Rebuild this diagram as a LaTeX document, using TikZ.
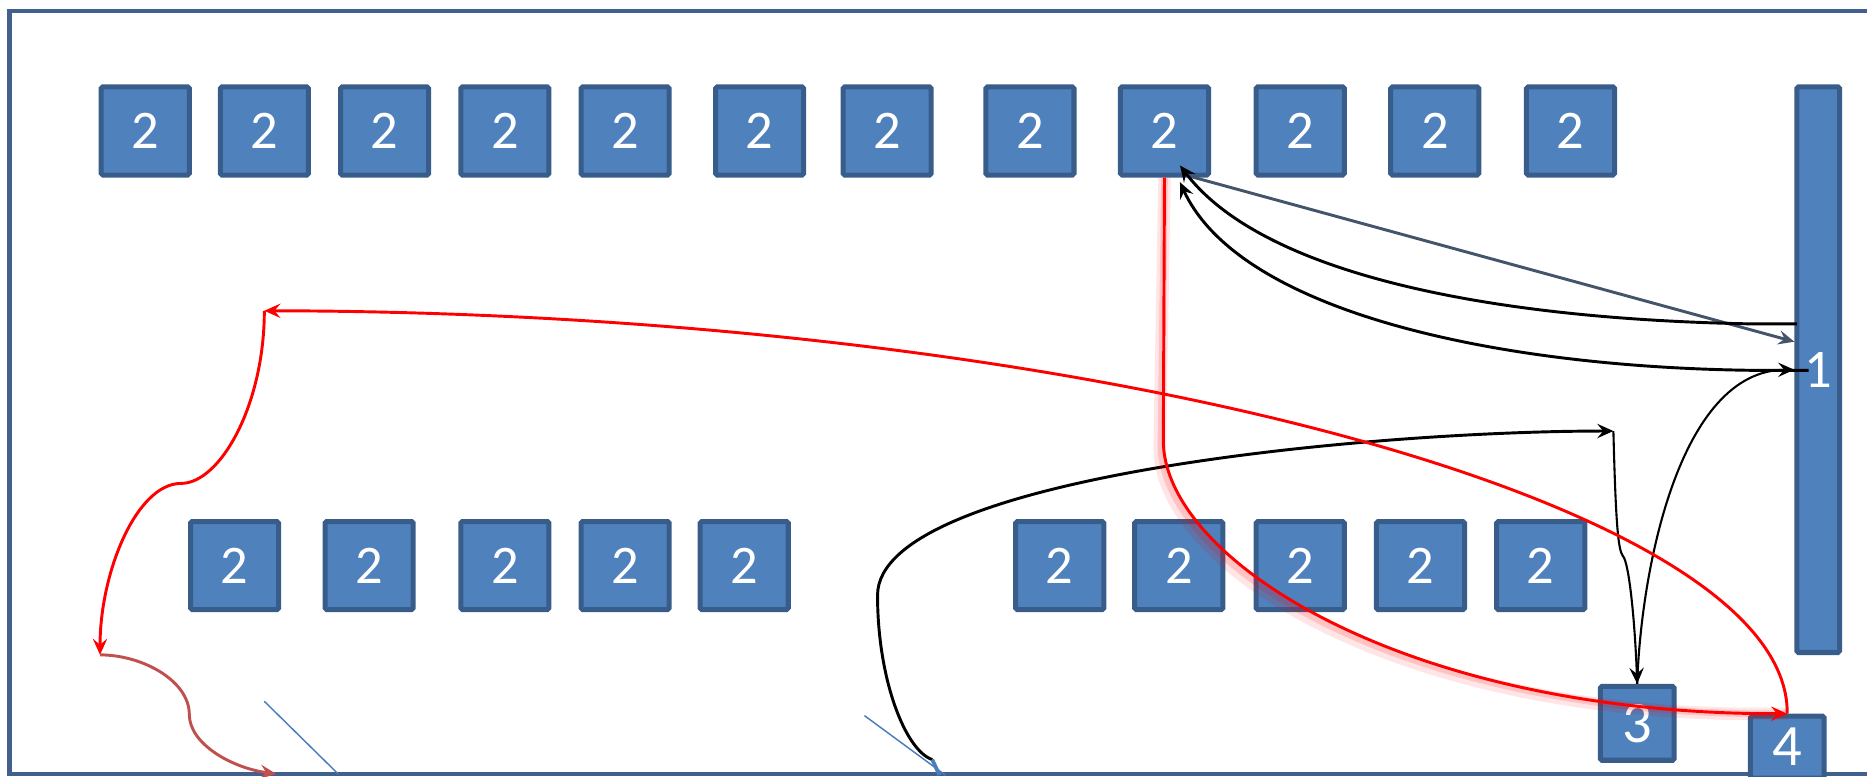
\documentclass[tikz,border=0pt]{standalone}
\usepackage{fontspec}
\setmainfont{Carlito}
\usetikzlibrary{arrows.meta}

\definecolor{boxfill}{HTML}{4F81BD}
\definecolor{boxline}{HTML}{385D8A}
\definecolor{frameline}{HTML}{41618C}
\definecolor{greyline}{HTML}{44546A}
\definecolor{brownred}{HTML}{C0504D}
\definecolor{thinblue}{HTML}{4A7EBB}

\begin{document}
\begin{tikzpicture}[x=0.1mm, y=-0.1mm,
    blk/.style={draw=boxline, fill=boxfill, line width=1.2pt, rounded corners=0.4pt,
      inner sep=0pt, text=white, font=\fontsize{13}{15}\selectfont},
    sq/.style={blk, minimum width=7.4mm, minimum height=7.4mm},
    tip/.style={-{Stealth[length=1.35mm, width=1.2mm, inset=0.5mm]}},
    blackline/.style={black, line width=0.7pt},
    redline/.style={red, line width=0.7pt}]
    \clip (0,0) rectangle (1568,652);

    % 外框
    \draw[frameline, line width=1pt] (8,9) rectangle (1620,650);

    % 上排方块
    \node[sq] (t1) at (122,110) {2};
    \node[sq] (t2) at (222,110) {2};
    \node[sq] (t3) at (323,110) {2};
    \node[sq] (t4) at (424,110) {2};
    \node[sq] (t5) at (525,110) {2};
    \node[sq] (t6) at (638,110) {2};
    \node[sq] (t7) at (745,110) {2};
    \node[sq] (t8) at (865,110) {2};
    \node[sq] (t9) at (978,110) {2};
    \node[sq] (t10) at (1092,110) {2};
    \node[sq] (t11) at (1205,110) {2};
    \node[sq] (t12) at (1319,110) {2};

    % 下排方块
    \node[sq] (b1) at (197,475) {2};
    \node[sq] (b2) at (310,475) {2};
    \node[sq] (b3) at (424,475) {2};
    \node[sq] (b4) at (525,475) {2};
    \node[sq] (b5) at (625,475) {2};
    \node[sq] (b6) at (890,475) {2};
    \node[sq] (b7) at (990,475) {2};
    \node[sq] (b8) at (1092,475) {2};
    \node[sq] (b9) at (1193,475) {2};
    \node[sq] (b10) at (1294,475) {2};

    % 右侧长条和小方块
    \node[blk, minimum width=3.6mm, minimum height=47.5mm] (one) at (1527,310.5) {1};
    \node[blk, minimum width=6.2mm, minimum height=6.2mm, font=\fontsize{14}{16}\selectfont] (three) at (1375,607.5) {3};
    \node[blk, minimum width=6.2mm, minimum height=5.2mm, font=\fontsize{14}{16}\selectfont] (four) at (1501,627.5) {4};

    % 端点
    \coordinate (a1) at (991,139);
    \coordinate (a2) at (991,153);
    \coordinate (a3) at (999,148);
    \coordinate (c2) at (1509,272);
    \coordinate (c3) at (1519,311);
    \coordinate (c4) at (1507,287);
    \coordinate (k1) at (1355,362);
    \coordinate (k2) at (1363,467);
    \coordinate (b0) at (783,638);
    \coordinate (r1) at (222,261);
    \coordinate (r2) at (152,406);
    \coordinate (r3) at (84,550);
    \coordinate (r4) at (159,600);
    \coordinate (r5) at (232,650);

    % 细蓝线
    \draw[thinblue, line width=0.35pt] (222,589) -- (284,650);
    \draw[thinblue, line width=0.35pt] (726,601) -- (794,651);

    % 长条和方块之间的连线
    \draw[greyline, line width=0.7pt, tip] (a3) -- (c4);
    \draw[blackline, tip] (c2) -- (1470,272) .. controls (1250,268) and (1060,230) .. (a1);
    \draw[blackline, tip] (c3) -- (1470,311) .. controls (1250,308) and (1040,260) .. (a2);
    \draw[black, line width=0.5pt, tip] (three.north) .. controls (1378,480) and (1410,311) .. (one.west);
    \draw[blackline, tip] (b0) .. controls (760,630) and (737,570) .. (737,500)
      .. controls (737,400) and (1150,362) .. (k1);
    \draw[black, line width=0.5pt, tip] (k1) .. controls (1357,440) and (1359,462) .. (k2)
      .. controls (1368,472) and (1373,520) .. (three.north);
    \draw[thinblue, line width=0.9pt] (b0) -- (789,651);

    % 红色连线
    \draw[red, opacity=0.10, line width=3pt, xshift=-0.3mm, yshift=-0.6mm]
      (t9.south) -- (977,370) .. controls (977,470) and (1180,600) .. (four.north);
    \draw[red, opacity=0.15, line width=1.6pt, xshift=-0.2mm, yshift=-0.35mm]
      (t9.south) -- (977,370) .. controls (977,470) and (1180,600) .. (four.north);
    \draw[redline, tip] (t9.south) -- (977,370) .. controls (977,470) and (1180,600) .. (four.north);
    \draw[redline, tip] (four.north) .. controls (1503,420) and (900,262) .. (r1);
    \draw[redline, tip] (r1) .. controls (222,340) and (185,406) .. (r2)
      .. controls (115,406) and (84,480) .. (r3);
    \draw[brownred, line width=0.7pt, tip] (r3) .. controls (120,550) and (159,572) .. (r4)
      .. controls (159,625) and (195,645) .. (r5);
  \end{tikzpicture}
\end{document}
